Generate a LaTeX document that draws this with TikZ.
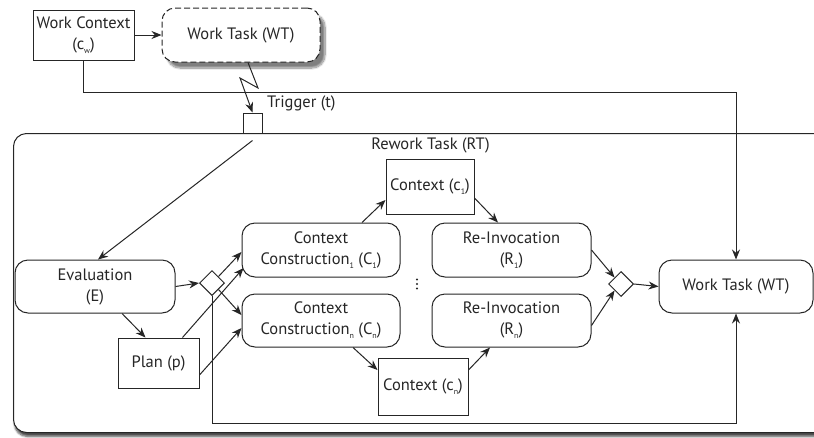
\documentclass[tikz,border=0pt]{standalone}
\usepackage{fontspec}
\setmainfont{PT Sans}
\usetikzlibrary{shapes.geometric,arrows.meta,shadows.blur,calc}
\newcommand\lsub[1]{\raisebox{-0.5ex}{\fontsize{8}{8}\selectfont #1}}
\definecolor{ink}{HTML}{262626}
\tikzset{
  every node/.style={font=\fontsize{16.5}{21}\selectfont, text=ink, align=center, inner sep=0pt},
  arr/.style={draw=ink, line width=1pt, -{Stealth[length=10pt,width=8pt]}},
  taskbox/.style={draw=ink, line width=1pt, rounded corners=13pt, fill=white},
  databox/.style={draw=ink, line width=1pt, fill=white},
  gate/.style={draw=ink, line width=1pt, diamond, fill=white, minimum width=25pt, minimum height=25pt},
}
\begin{document}
\begin{tikzpicture}[x=1pt,y=-1pt]
\useasboundingbox (0,0) rectangle (814,437);
\begin{scope}
\clip (0,0) rectangle (814,437);
% outer rework task container
\node[taskbox, anchor=north west, minimum width=820pt, minimum height=299pt,
      blur shadow={shadow xshift=1pt, shadow yshift=-4pt, shadow blur steps=6, shadow opacity=70}]
      (rt) at (13,133) {};
\end{scope}
\node (rtlabel) at (430.5,145) {Rework Task (RT)};

% top row
\node[databox, minimum width=101pt, minimum height=50pt] (wc) at (83.5,35) {Work Context\\(c\lsub{w})};
\node[taskbox, dashed, dash pattern=on 6pt off 3pt, minimum width=158pt, minimum height=54pt,
      blur shadow={shadow xshift=5pt, shadow yshift=-6pt, shadow blur steps=10, shadow opacity=50}]
      (wt1) at (241,35) {Work Task (WT)};
\node[databox, minimum width=19pt, minimum height=20pt] (trig) at (252.5,123) {};
\node[anchor=west] (triglabel) at (267,103) {Trigger (t)};

% inner process
\node[taskbox, minimum width=160pt, minimum height=53pt] (ev) at (95,286.5) {Evaluation\\(E)};
\node[gate] (d1) at (212,283) {};
\node[databox, minimum width=81pt, minimum height=50pt] (plan) at (158.5,363) {Plan (p)};
\node[taskbox, minimum width=158pt, minimum height=54pt] (cc1) at (321,250) {Context\\Construction\lsub{1} (C\lsub{1})};
\node[taskbox, minimum width=158pt, minimum height=53pt] (ccn) at (321,320.5) {Context\\Construction\lsub{n} (C\lsub{n})};
\node[databox, minimum width=88pt, minimum height=55pt] (c1) at (430,186.5) {Context (c\lsub{1})};
\node[databox, minimum width=90pt, minimum height=57pt] (cn) at (423,386.5) {Context (c\lsub{n})};
\node[taskbox, minimum width=159pt, minimum height=54pt] (r1) at (511.5,250) {Re-Invocation\\(R\lsub{1})};
\node[taskbox, minimum width=159pt, minimum height=53pt] (rn) at (511.5,320.5) {Re-Invocation\\(R\lsub{n})};
\node[gate] (d2) at (621,284) {};
\node[taskbox, minimum width=154pt, minimum height=53pt] (wt2) at (736,286.5) {Work Task (WT)};

% vertical ellipsis between the two branches
\foreach \yy in {279.5,284,288.5} \fill[ink] (417,\yy) circle (1.1pt);

% connectors
\draw[arr] (wc.east) -- (wt1.west);
\coordinate (z1) at (258,88);
\coordinate (z2) at (240,78);
\draw[arr] ([xshift=7pt]wt1.south) -- (z1) -- (z2) -- (trig.north);
\coordinate (bend) at (736,92);
\draw[arr] (wc.south) |- (bend) -- (wt2.north);
\draw[arr] ([yshift=-7pt]trig.south) -- ([xshift=3pt]ev.north);
\draw[arr] (ev.east) -- (d1.west);
\draw[arr] ([xshift=27pt]ev.south) -- ([xshift=-13pt]plan.north);
\draw[arr] (d1.north east) -- ([yshift=-2pt]cc1.west);
\draw[arr] (d1.south east) -- ([yshift=5.5pt]ccn.west);
\draw[arr] ([xshift=24pt]plan.north) -- ([yshift=-18pt,xshift=2pt]cc1.west);
\draw[arr] ([yshift=-12pt]plan.east) -- ([yshift=-7.5pt]ccn.west);
\coordinate (low) at (212,423);
\draw[arr] (d1.south) -- (low) -| (wt2.south);
\draw[arr] ([xshift=41pt]cc1.north) -- ([yshift=-13.5pt]c1.west);
\draw[arr] ([yshift=-11.5pt]c1.east) -- ([xshift=-13.5pt]r1.north);
\draw[arr] ([xshift=32pt]ccn.south) -- ([yshift=16.5pt]cn.west);
\draw[arr] ([yshift=16.5pt]cn.east) -- ([xshift=-21.5pt]rn.south);
\draw[arr] (r1.east) -- (d2.north west);
\draw[arr] ([yshift=-5pt]rn.east) -- (d2.south west);
\draw[arr] (d2.east) -- (wt2.west);
\end{tikzpicture}
\end{document}
